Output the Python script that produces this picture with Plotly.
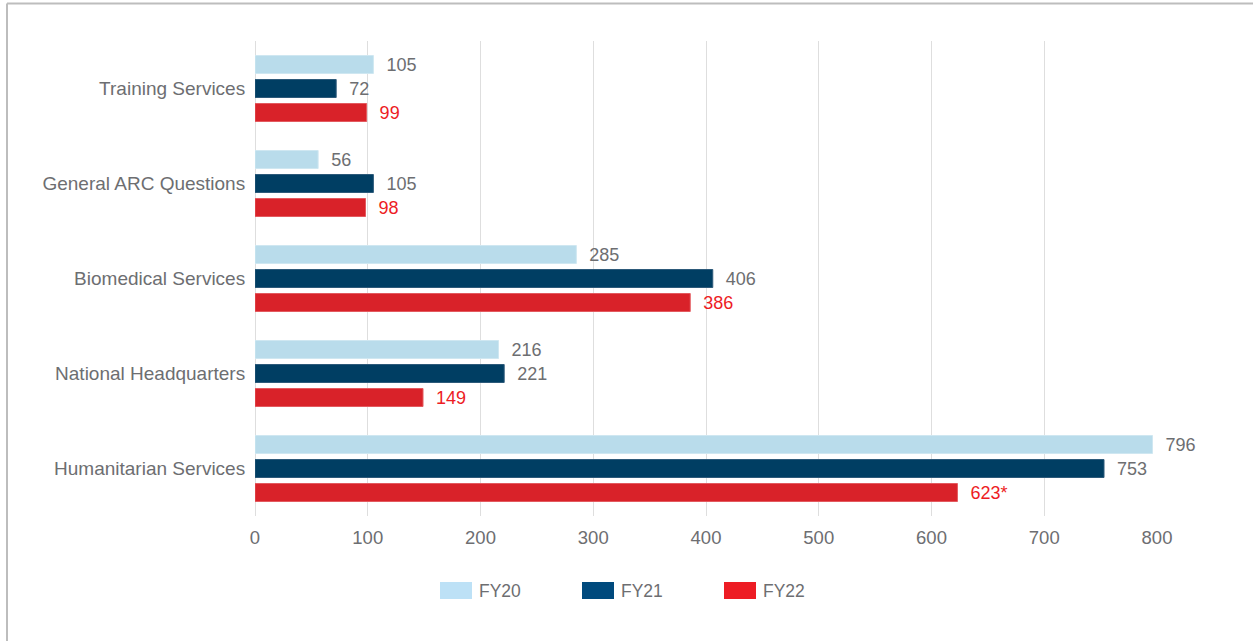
import plotly.graph_objects as go

# Inquiry counts by service area and fiscal year
categories = [
    "Training Services",
    "General ARC Questions",
    "Biomedical Services",
    "National Headquarters",
    "Humanitarian Services",
]
series_names = ["FY20", "FY21", "FY22"]
fy20 = [105, 56, 285, 216, 796]
fy21 = [72, 105, 406, 221, 753]
fy22 = [99, 98, 386, 149, 623]
fy22_notes = ["", "", "", "", "*"]
x_ticks = [0, 100, 200, 300, 400, 500, 600, 700, 800]

bar_colors = ["#b9dceb", "#003e63", "#d92229"]
bar_edges = ["#cfe7f1", "#2d5a7a", "#e35a5f"]
legend_colors = ["#bde1f6", "#004a7d", "#ed1c24"]
label_colors = ["#6d6e71", "#6d6e71", "#ed1c24"]

FONT = "Liberation Sans, Arial, Helvetica, sans-serif"
GRAY = "#6d6e71"

W, H = 1253, 641
ML, MR, MT, MB = 255, 96, 41, 125
PW, PH = W - ML - MR, H - MT - MB


def px_x(px):
    return (px - ML) / PW


def px_y(py):
    return (H - MB - py) / PH


fig = go.Figure()

series_values = [fy20, fy21, fy22]
series_text = [
    [str(v) for v in fy20],
    [str(v) for v in fy21],
    [f"{v}{n}" for v, n in zip(fy22, fy22_notes)],
]

for name, vals, texts, col, edge, lcol in zip(
    series_names, series_values, series_text, bar_colors, bar_edges, label_colors
):
    fig.add_trace(
        go.Bar(
            y=categories,
            x=vals,
            name=name,
            orientation="h",
            marker=dict(color=col, line=dict(color=edge, width=1)),
            text=["\u00a0\u00a0" + t for t in texts],
            textposition="outside",
            constraintext="none",
            textfont=dict(family=FONT, size=18, color=lcol),
            cliponaxis=False,
            showlegend=False,
            hoverinfo="x+y+name",
        )
    )

# Frame lines along the top and left edge
shapes = [
    dict(type="line", xref="paper", yref="paper",
         x0=px_x(7), x1=px_x(W + 5), y0=px_y(3.5), y1=px_y(3.5),
         line=dict(color="#bdbdbd", width=2)),
    dict(type="line", xref="paper", yref="paper",
         x0=px_x(7), x1=px_x(7), y0=px_y(3.5), y1=px_y(H + 5),
         line=dict(color="#bdbdbd", width=2)),
]

# Custom legend: wide swatches with labels
annotations = []
legend_left = [440, 582, 724]
for name, col, left in zip(series_names, legend_colors, legend_left):
    shapes.append(
        dict(type="rect", xref="paper", yref="paper",
             x0=px_x(left), x1=px_x(left + 32),
             y0=px_y(582), y1=px_y(599),
             fillcolor=col, line=dict(width=0))
    )
    annotations.append(
        dict(xref="paper", yref="paper", x=px_x(left + 37), y=px_y(590.5),
             xanchor="left", yanchor="middle", text=name, showarrow=False,
             font=dict(family=FONT, size=17.5, color=GRAY))
    )

fig.update_layout(
    width=W,
    height=H,
    margin=dict(l=ML, r=MR, t=MT, b=MB, pad=0),
    paper_bgcolor="white",
    plot_bgcolor="white",
    barmode="group",
    bargap=0.242,
    bargroupgap=0.25,
    showlegend=False,
    shapes=shapes,
    annotations=annotations,
    font=dict(family=FONT, color=GRAY),
    xaxis=dict(
        range=[0, 800],
        tickvals=x_ticks,
        ticktext=[str(t) for t in x_ticks],
        showgrid=True,
        gridcolor="#dedede",
        gridwidth=1,
        zeroline=True,
        zerolinecolor="#dedede",
        zerolinewidth=1,
        showline=False,
        ticks="outside",
        ticklen=5,
        tickcolor="rgba(0,0,0,0)",
        tickfont=dict(family=FONT, size=18.5, color=GRAY),
    ),
    yaxis=dict(
        categoryorder="array",
        categoryarray=categories,
        autorange="reversed",
        showgrid=False,
        zeroline=False,
        showline=False,
        ticks="outside",
        ticklen=5,
        tickcolor="rgba(0,0,0,0)",
        tickfont=dict(family=FONT, size=19, color=GRAY),
    ),
)

fig.write_html("out.html")
